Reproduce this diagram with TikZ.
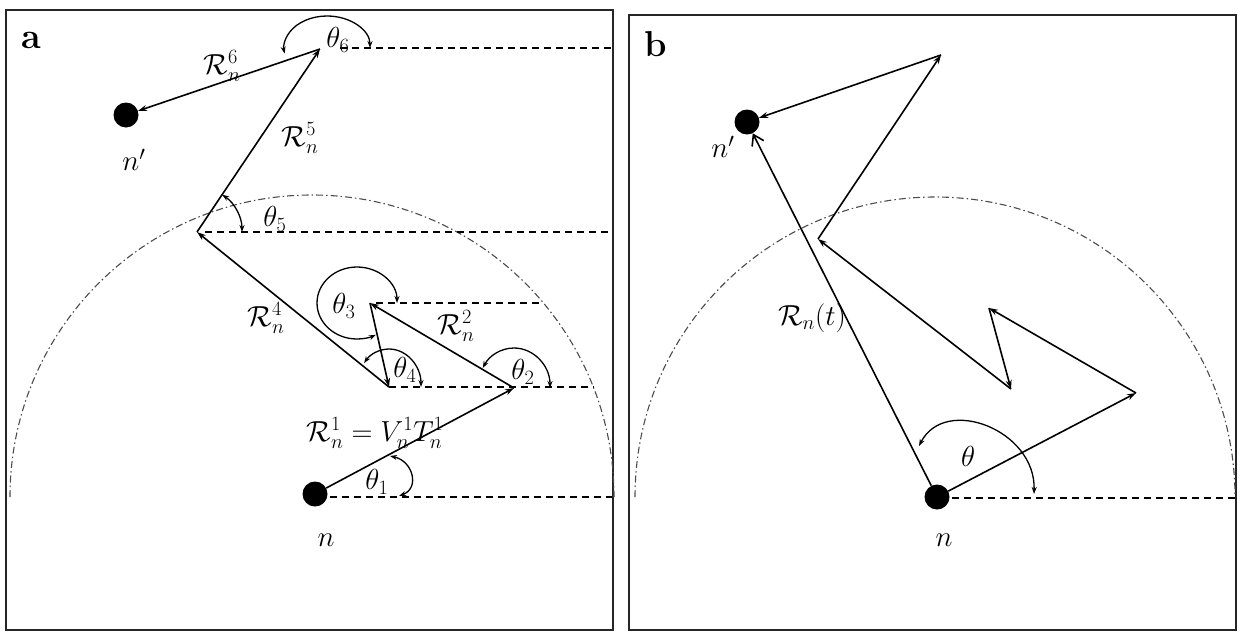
\RequirePackage{fix-cm}
\documentclass[tikz,border=0pt]{standalone}
\usetikzlibrary{arrows.meta}
\begin{document}
\begin{tikzpicture}[x=1pt,y=-1pt,
  vec/.style={line width=1.6pt,-{Stealth[length=9pt,width=6pt]}},
  ang/.style={line width=1.3pt,{Stealth[length=7pt,width=5pt]}-{Stealth[length=7pt,width=5pt]}},
  hdash/.style={line width=1.5pt,dash pattern=on 7pt off 5pt},
  dd/.style={line width=1.1pt,black!70,dash pattern=on 7pt off 3pt on 1.5pt off 3pt},
  frame/.style={line width=2pt,black!85},
  dot/.style={circle,fill=black,inner sep=0pt,minimum size=25pt},
  lab/.style={font=\fontsize{29}{32}\selectfont,inner sep=0pt},
  plab/.style={font=\fontsize{36}{40}\selectfont\bfseries,inner sep=0pt},
]
\useasboundingbox (0,0) rectangle (1241,632);
% ---------- panel a ----------
\draw[frame] (6,10) rectangle (613,630);
\node[plab] (la) at (31,40) {a};
\draw[dd] (10,497) arc[start angle=180,end angle=360,radius=302];
\node[dot] (na) at (315,494) {};
\node[dot] (npa) at (126,115) {};
\coordinate (P1) at (514,388);
\coordinate (P2) at (370,303);
\coordinate (P3) at (389,387);
\coordinate (P4) at (197,232);
\coordinate (P5) at (320,49);
% dashed horizontals
\coordinate (d1e) at (612,497);
\coordinate (d2e) at (594,387);
\coordinate (d3e) at (543,303);
\coordinate (d4e) at (612,232);
\coordinate (d5s) at (340,48);
\coordinate (d5e) at (612,48);
\draw[hdash] (na.east) ++(2,3) -- (d1e);
\draw[hdash] (P3) -- (d2e);
\draw[hdash] (P2) ++(6,0) -- (d3e);
\draw[hdash] (P4) ++(8,0) -- (d4e);
\draw[hdash] (d5s) -- (d5e);
% vectors
\draw[vec] (na) -- (P1);
\draw[vec] (P1) -- (P2);
\draw[vec] (P2) -- (P3);
\draw[vec] (P3) -- (P4);
\draw[vec] (P4) -- (P5);
\draw[vec] (P5) -- (npa);
% angle arcs
\draw[ang] (399,496) .. controls (420,488) and (413,461) .. (390,456);
\draw[ang] (550,388) arc[start angle=0,end angle=-150,x radius=36,y radius=40];
\draw[ang] (397,303) arc[start angle=0,end angle=-298,x radius=40,y radius=36];
\draw[ang] (421,387) arc[start angle=0,end angle=-141,x radius=32,y radius=38];
\draw[ang] (242,232) arc[start angle=0,end angle=-56,radius=45];
\draw[ang] (370,48) arc[start angle=0,end angle=-190,x radius=43,y radius=32];
% labels
\node[lab] (r6) at (222,66) {$\mathcal{R}_n^6$};
\node[lab] (r5) at (300,138) {$\mathcal{R}_n^5$};
\node[lab] (t6) at (338,40) {$\theta_6$};
\node[lab] (lnpa) at (134,160) {$n'$};
\node[lab] (t5) at (275,219) {$\theta_5$};
\node[lab] (t3) at (344,306) {$\theta_3$};
\node[lab] (r4) at (266,318) {$\mathcal{R}_n^4$};
\node[lab] (r2) at (456,326) {$\mathcal{R}_n^2$};
\node[lab] (t4) at (405,370) {$\theta_4$};
\node[lab] (t2) at (523,372) {$\theta_2$};
\node[lab] (r1) at (375,433) {$\mathcal{R}_n^1=V_n^1T_n^1$};
\node[lab] (t1) at (377,482) {$\theta_1$};
\node[lab] (lna) at (326,540) {$n$};
% ---------- panel b ----------
\draw[frame] (629,15) rectangle (1236,630);
\node[plab] (lb) at (656,44) {b};
\draw[dd] (635,497) arc[start angle=180,end angle=360,radius=300];
\node[dot] (nb) at (937,497) {};
\node[dot] (npb) at (747,122) {};
\coordinate (Q1) at (1136,393);
\coordinate (Q2) at (989,308);
\coordinate (Q3) at (1011,389);
\coordinate (Q4) at (818,239);
\coordinate (Q5) at (941,55);
\coordinate (db) at (1235,498);
\draw[hdash] (nb.east) ++(2,1) -- (db);
\draw[vec] (nb) -- (Q1);
\draw[vec] (Q1) -- (Q2);
\draw[vec] (Q2) -- (Q3);
\draw[vec] (Q3) -- (Q4);
\draw[vec] (Q4) -- (Q5);
\draw[vec] (Q5) -- (npb);
\draw[line width=1.6pt,-{Straight Barb[length=10pt,width=13pt]}] (nb) -- (npb);
\draw[ang] (1034,494) .. controls (1036,430) and (945,395) .. (919,446);
\node[lab] (rt) at (812,318) {$\mathcal{R}_n(t)$};
\node[lab] (th) at (968,456) {$\theta$};
\node[lab] (lnpb) at (723,147) {$n'$};
\node[lab] (lnb) at (944,540) {$n$};
\end{tikzpicture}
\end{document}
